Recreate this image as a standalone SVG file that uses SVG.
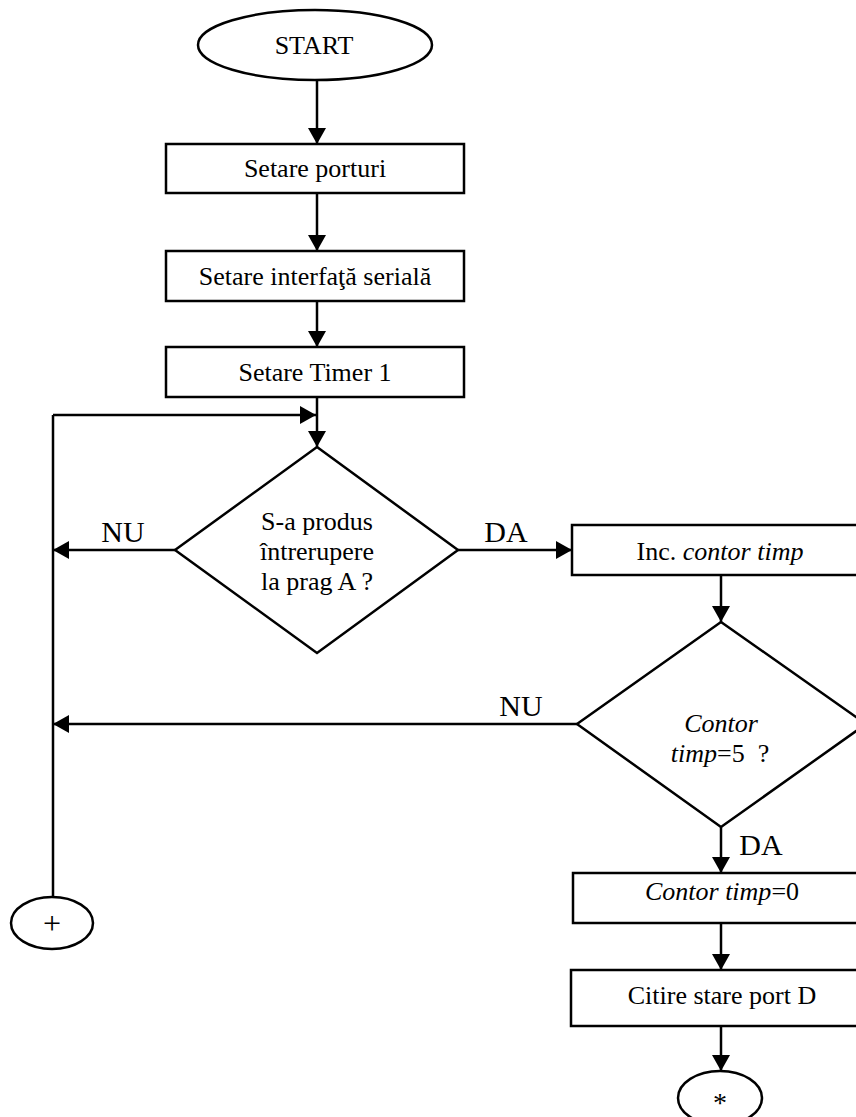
<svg xmlns="http://www.w3.org/2000/svg" width="856" height="1117" viewBox="0 0 856 1117">
  <style>
    .shape { fill: #ffffff; stroke: #000000; stroke-width: 2.5; }
    .wire { fill: none; stroke: #000000; stroke-width: 2.5; }
    text { font-family: "Liberation Serif", "Times New Roman", serif; font-size: 26px; fill: #000000; text-anchor: middle; }
    .lbl { font-size: 30px; }
    .it { font-style: italic; }
  </style>
  <defs>
    <marker id="arrow" markerUnits="userSpaceOnUse" markerWidth="16" markerHeight="18" viewBox="0 0 16 18" refX="16" refY="9" orient="auto">
      <path d="M0,0 L16,9 L0,18 Z" fill="#000000"/>
    </marker>
  </defs>

  <!-- connectors -->
  <g id="connectors">
    <line class="wire" x1="317" y1="80" x2="317" y2="144" marker-end="url(#arrow)"/>
    <line class="wire" x1="317" y1="193" x2="317" y2="251" marker-end="url(#arrow)"/>
    <line class="wire" x1="317" y1="301" x2="317" y2="347" marker-end="url(#arrow)"/>
    <line class="wire" x1="317" y1="397" x2="317" y2="447" marker-end="url(#arrow)"/>
    <!-- return loop on the left -->
    <line class="wire" x1="53" y1="897" x2="53" y2="415"/>
    <line class="wire" x1="53" y1="415" x2="316" y2="415" marker-end="url(#arrow)"/>
    <!-- decision 1 -->
    <line class="wire" x1="175" y1="550" x2="53" y2="550" marker-end="url(#arrow)"/>
    <line class="wire" x1="458" y1="550" x2="572" y2="550" marker-end="url(#arrow)"/>
    <!-- right column -->
    <line class="wire" x1="721" y1="575" x2="721" y2="622" marker-end="url(#arrow)"/>
    <line class="wire" x1="577" y1="724" x2="53" y2="724" marker-end="url(#arrow)"/>
    <line class="wire" x1="721" y1="827" x2="721" y2="873" marker-end="url(#arrow)"/>
    <line class="wire" x1="721" y1="923" x2="721" y2="970" marker-end="url(#arrow)"/>
    <line class="wire" x1="721" y1="1026" x2="721" y2="1071" marker-end="url(#arrow)"/>
    <!-- branch labels -->
    <text class="lbl" x="123" y="542">NU</text>
    <text class="lbl" x="506" y="542">DA</text>
    <text class="lbl" x="521" y="716">NU</text>
    <text class="lbl" x="761" y="855">DA</text>
  </g>

  <g id="start">
    <ellipse class="shape" cx="315" cy="45" rx="117" ry="35"/>
    <text x="314" y="54">START</text>
  </g>

  <g id="setare-porturi">
    <rect class="shape" x="166" y="144" width="298" height="49"/>
    <text x="315" y="177">Setare porturi</text>
  </g>

  <g id="setare-interfata">
    <rect class="shape" x="166" y="251" width="298" height="50"/>
    <text x="315" y="285">Setare interfaţă serială</text>
  </g>

  <g id="setare-timer">
    <rect class="shape" x="166" y="347" width="298" height="50"/>
    <text x="315" y="381">Setare Timer 1</text>
  </g>

  <g id="decizie-prag">
    <polygon class="shape" points="317,447 458,550 317,653 175,550"/>
    <text x="317" y="530">S-a produs</text>
    <text x="317" y="560">întrerupere</text>
    <text x="317" y="590">la prag A ?</text>
  </g>

  <g id="inc-contor">
    <rect class="shape" x="572" y="525" width="300" height="50"/>
    <text x="720" y="560">Inc. <tspan class="it">contor timp</tspan></text>
  </g>

  <g id="decizie-contor">
    <polygon class="shape" points="721,622 866,724 721,827 577,724"/>
    <text class="it" x="721" y="732">Contor</text>
    <text x="720" y="762"><tspan class="it">timp</tspan>=5&#160; ?</text>
  </g>

  <g id="reset-contor">
    <rect class="shape" x="573" y="873" width="300" height="50"/>
    <text x="722" y="900"><tspan class="it">Contor timp</tspan>=0</text>
  </g>

  <g id="citire-port">
    <rect class="shape" x="571" y="970" width="300" height="56"/>
    <text x="722" y="1004">Citire stare port D</text>
  </g>

  <g id="conector-plus">
    <ellipse class="shape" cx="52" cy="923" rx="41" ry="26"/>
    <text x="52" y="934" style="font-size:32px">+</text>
  </g>

  <g id="conector-stea">
    <ellipse class="shape" cx="720" cy="1098" rx="42" ry="27"/>
    <text x="720" y="1112" style="font-size:28px">*</text>
  </g>
</svg>
